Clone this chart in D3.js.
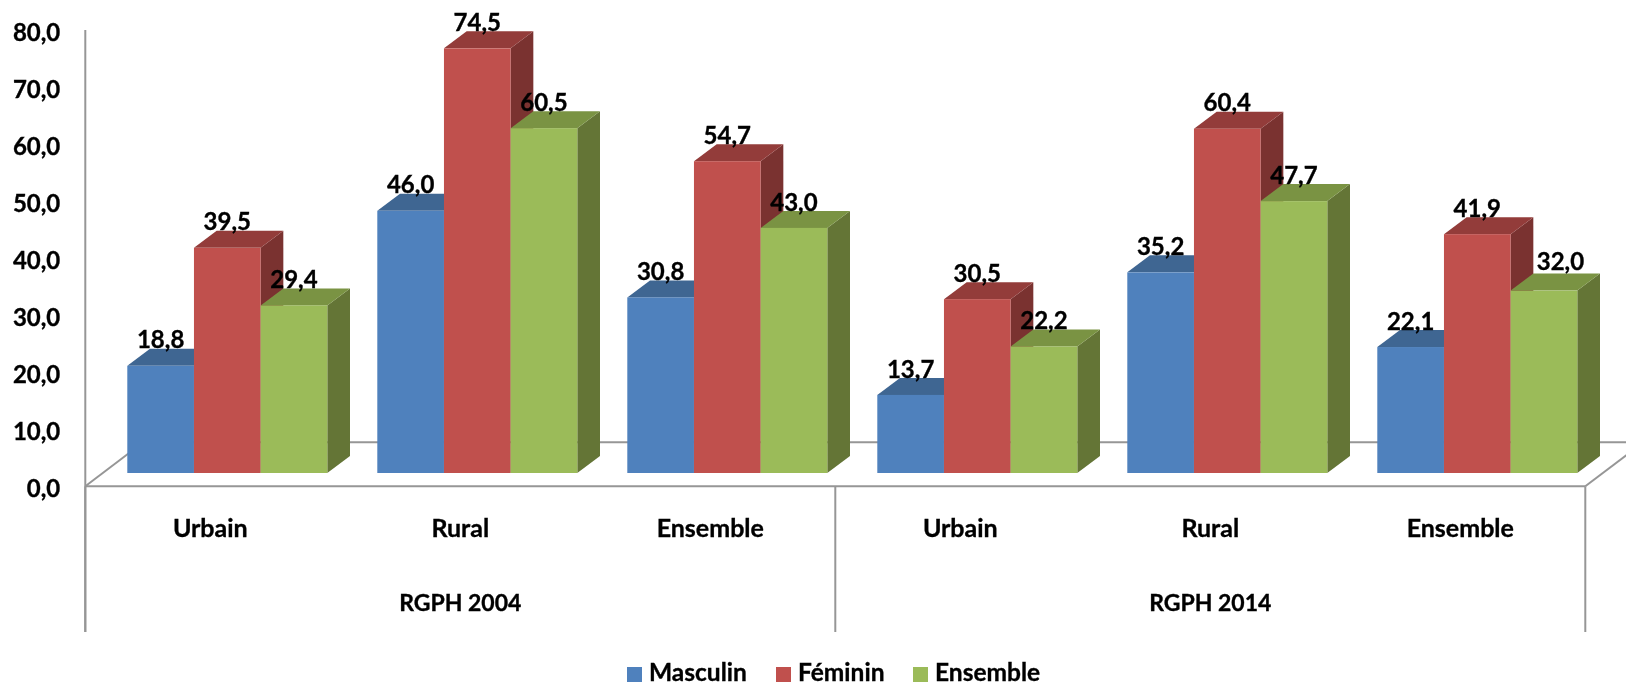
<!DOCTYPE html>
<html><head><meta charset="utf-8">
<script src="https://cdnjs.cloudflare.com/ajax/libs/d3/7.8.5/d3.min.js"></script>
<style>html,body{margin:0;padding:0;background:#fff}svg{display:block;filter:blur(0.35px)}text{font-family:Lato,"Open Sans",sans-serif;font-weight:700;fill:#000;stroke:#000;stroke-width:0.35px}</style>
</head><body><div id="chart"></div>
<script>
const groups = ["RGPH 2004","RGPH 2014"];
const categories = ["Urbain","Rural","Ensemble","Urbain","Rural","Ensemble"];
const seriesNames = ["Masculin","Féminin","Ensemble"];
const masculin = [18.8,46.0,30.8,13.7,35.2,22.1];
const feminin = [39.5,74.5,54.7,30.5,60.4,41.9];
const ensemble = [29.4,60.5,43.0,22.2,47.7,32.0];
const yTicks = [0,10,20,30,40,50,60,70,80];
const frontColors = ["#4F81BD","#C0504D","#9BBB59"];
const topColors = ["#3F6692","#933C3A","#7A9343"];
const sideColors = ["#355678","#7A3230","#647536"];

const W=1626,H=685, left=85.3, right=1585.3, floorY=486.3, topY=30, bottomY=632;
const depth={x:22.7,y:17}, inset={x:42,y:13.3}, back={x:58,y:44};
const gray="#969696";
const values=[masculin,feminin,ensemble];
const fmt=v=>d3.format(".1f")(v).replace(".",",");

const svg=d3.select("#chart").append("svg").attr("width",W).attr("height",H);
const y=d3.scaleLinear().domain([0,80]).range([floorY,topY+0.3]);
const xCat=d3.scaleBand().domain(d3.range(categories.length)).range([left,right]);
const xSer=d3.scaleBand().domain(d3.range(seriesNames.length)).range([inset.x,inset.x+200]);
const xGroup=d3.scaleBand().domain(d3.range(groups.length)).range([left,right]);

const line=(x1,y1,x2,y2)=>svg.append("line").attr("x1",x1).attr("y1",y1).attr("x2",x2).attr("y2",y2).attr("stroke",gray).attr("stroke-width",2);
line(left+back.x,floorY-back.y,W,floorY-back.y);
line(left,floorY,left+back.x,floorY-back.y);
line(right,floorY,right+back.x,floorY-back.y);

const ax=svg.append("g").attr("transform",`translate(${left},0)`)
 .call(d3.axisLeft(y).tickValues(yTicks).tickFormat(fmt).tickSize(0).tickPadding(25));
ax.select(".domain").remove();
ax.selectAll("text").attr("font-size",24).attr("dy","0.42em");

const poly=(g,pts,fill)=>g.append("polygon").attr("points",pts.map(p=>p.join(",")).join(" ")).attr("fill",fill);
categories.forEach((c,i)=>{
  seriesNames.forEach((s,j)=>{
    const g=svg.append("g").attr("class","bar");
    const x0=xCat(i)+xSer(j), x1=x0+xSer.bandwidth();
    const b=y(0)-inset.y, t=y(values[j][i])-inset.y;
    poly(g,[[x1,t],[x1+depth.x,t-depth.y],[x1+depth.x,b-depth.y],[x1,b]],sideColors[j]);
    poly(g,[[x0,t],[x0+depth.x,t-depth.y],[x1+depth.x,t-depth.y],[x1,t]],topColors[j]);
    g.append("rect").attr("x",x0).attr("y",t).attr("width",x1-x0).attr("height",b-t).attr("fill",frontColors[j]);
  });
});
// value labels: the last Ensemble label sits shifted up and right in the original
categories.forEach((c,i)=>seriesNames.forEach((s,j)=>{
  const moved=(i===5&&j===2);
  svg.append("text").attr("x",xCat(i)+xSer(j)+xSer.bandwidth()/2+(moved?16.5:0))
   .attr("y",y(values[j][i])-inset.y-26-(moved?3:0)).attr("dy","0.36em")
   .attr("text-anchor","middle").attr("font-size",24).text(fmt(values[j][i]));
}));

line(left,topY,left,bottomY);
line(left,floorY,right,floorY);
[left,(left+right)/2,right].forEach(x=>line(x,floorY,x,bottomY));

svg.selectAll(".cat").data(categories).join("text").attr("class","cat")
 .attr("x",(d,i)=>xCat(i)+xCat.bandwidth()/2).attr("y",528).attr("dy","0.36em")
 .attr("text-anchor","middle").attr("font-size",25).text(d=>d);
svg.selectAll(".grp").data(groups).join("text").attr("class","grp")
 .attr("x",(d,i)=>xGroup(i)+xGroup.bandwidth()/2).attr("y",603).attr("dy","0.36em")
 .attr("text-anchor","middle").attr("font-size",23).text(d=>d);

const legendX=d3.scaleOrdinal().domain(seriesNames).range([627,776,913]);
seriesNames.forEach((s,j)=>{
  const lx=legendX(s);
  svg.append("rect").attr("x",lx).attr("y",667).attr("width",15).attr("height",15).attr("fill",frontColors[j]);
  svg.append("text").attr("x",lx+22).attr("y",672).attr("dy","0.36em").attr("font-size",24.5).text(s);
});
</script></body></html>
